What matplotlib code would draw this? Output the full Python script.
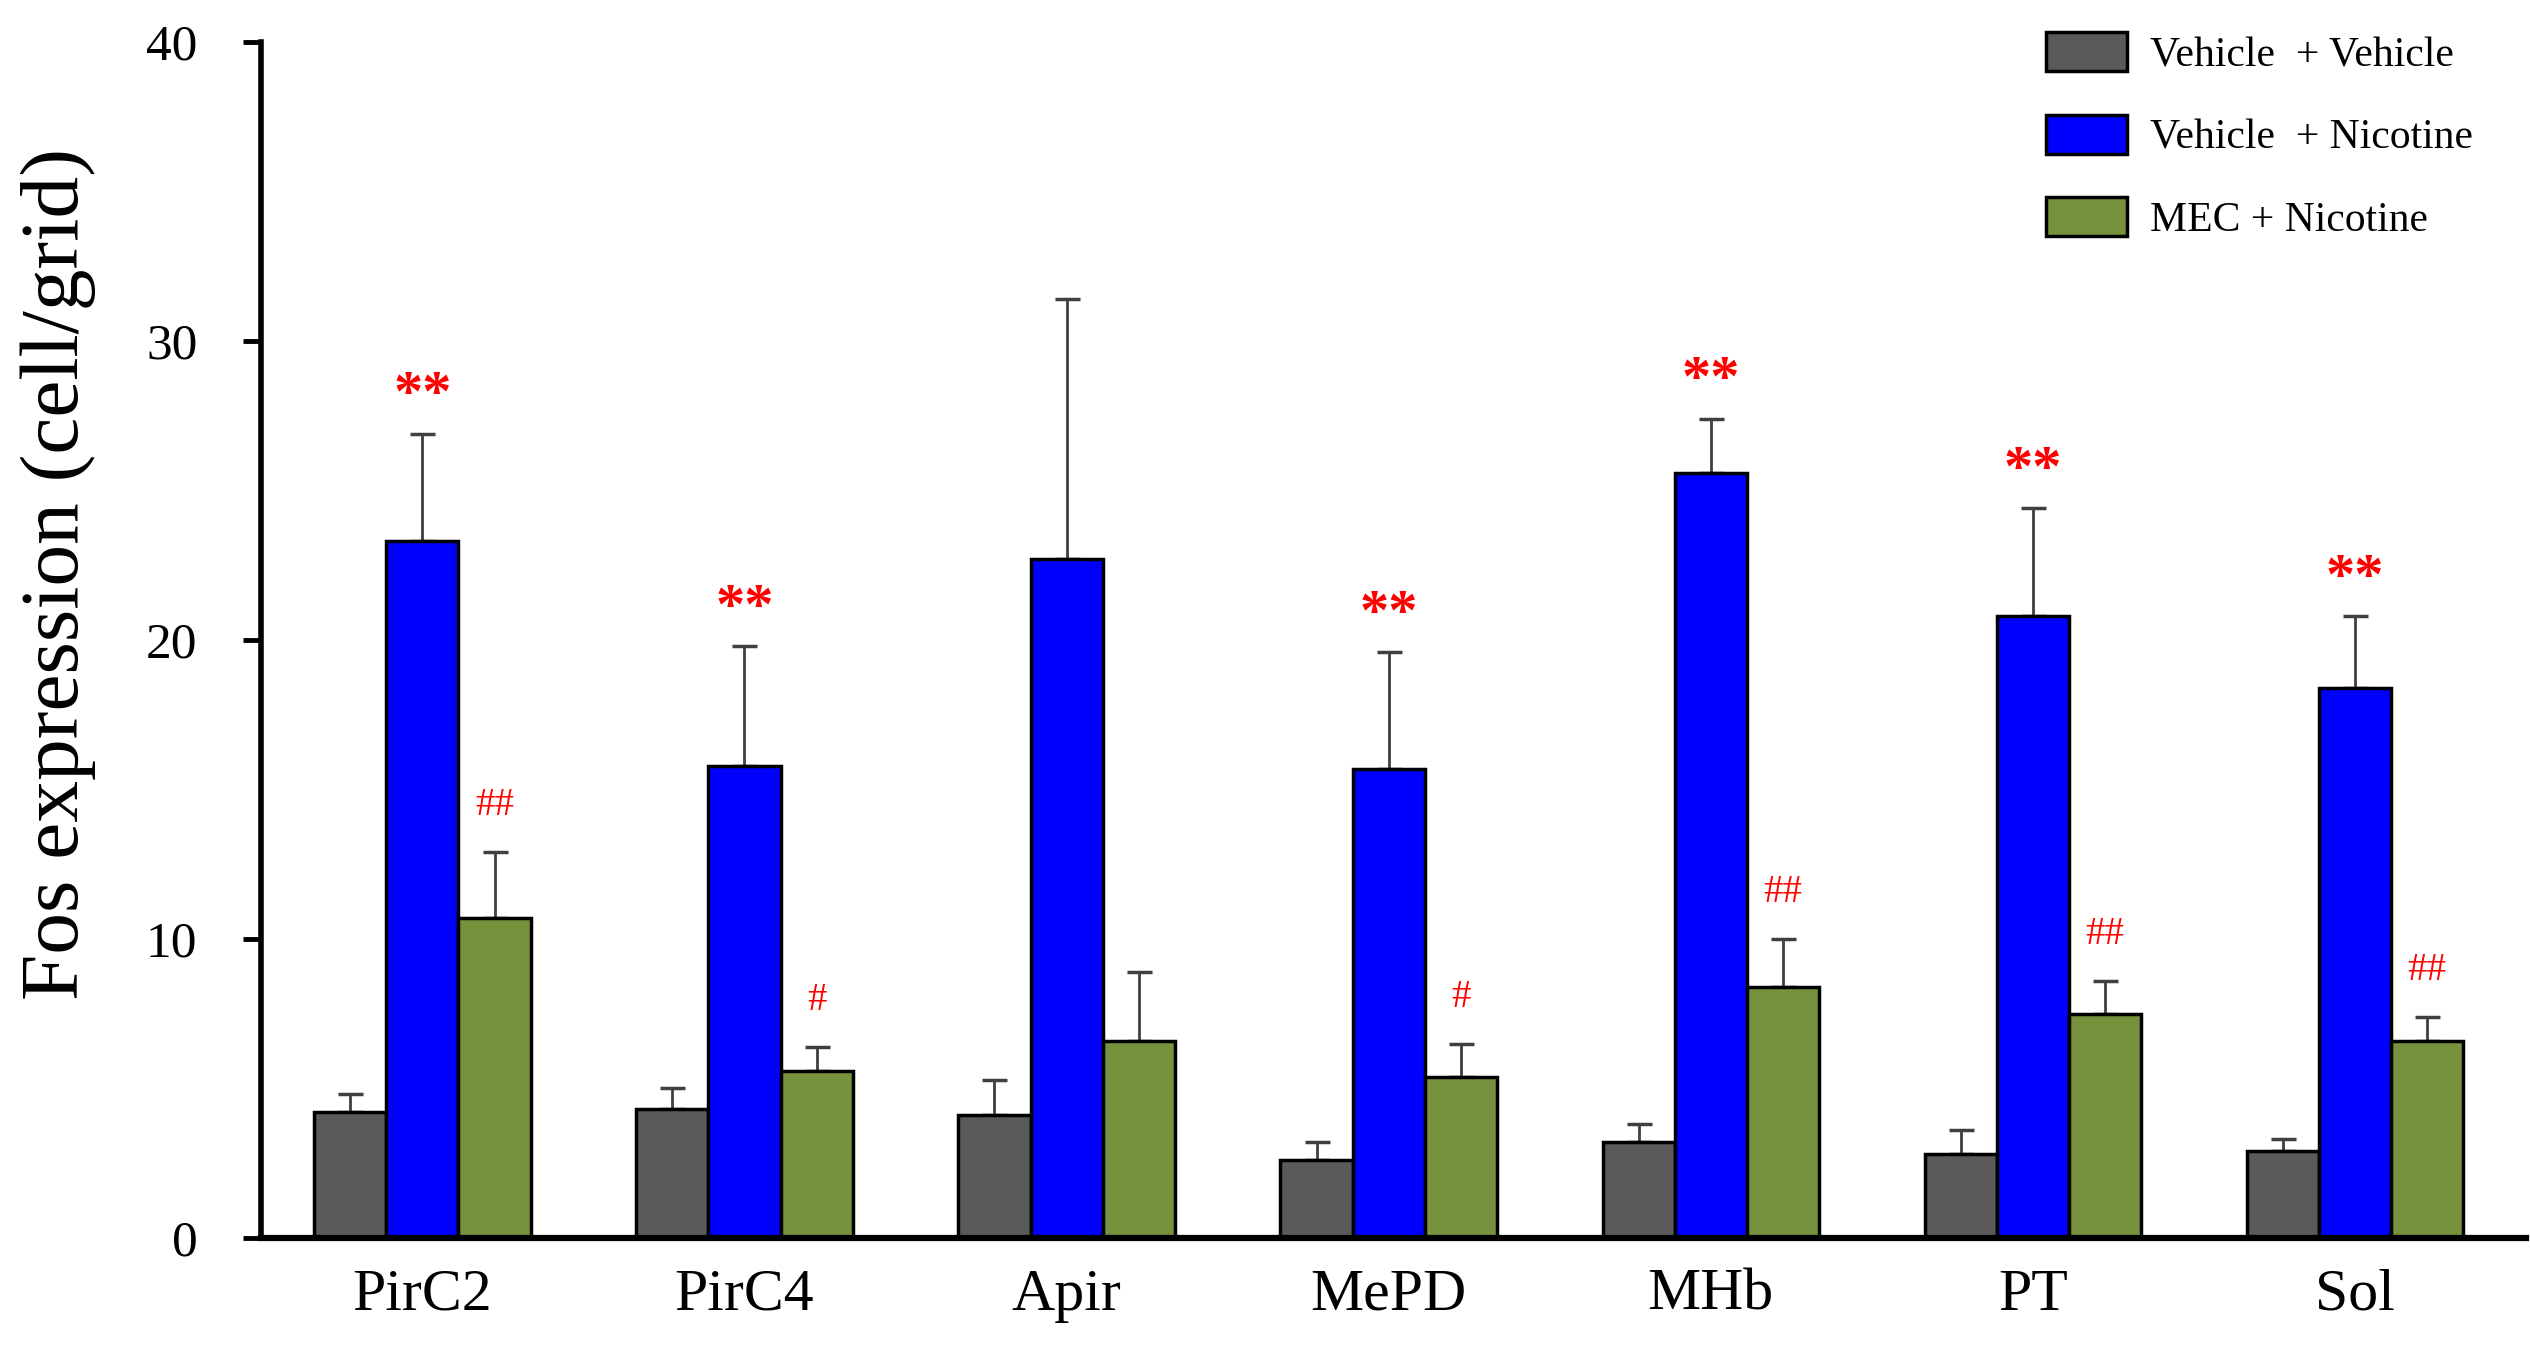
import matplotlib
matplotlib.use("Agg")
import matplotlib.pyplot as plt
import numpy as np

plt.rcParams['font.family'] = ['Liberation Serif', 'DejaVu Serif']

categories = ["PirC2", "PirC4", "Apir", "MePD", "MHb", "PT", "Sol"]
series_names = ["Vehicle  + Vehicle", "Vehicle  + Nicotine", "MEC + Nicotine"]
veh_veh = [4.2, 4.3, 4.1, 2.6, 3.2, 2.8, 2.9]
veh_veh_err = [0.6, 0.7, 1.2, 0.6, 0.6, 0.8, 0.4]
veh_nic = [23.3, 15.8, 22.7, 15.7, 25.6, 20.8, 18.4]
veh_nic_err = [3.6, 4.0, 8.7, 3.9, 1.8, 3.6, 2.4]
mec_nic = [10.7, 5.6, 6.6, 5.4, 8.4, 7.5, 6.6]
mec_nic_err = [2.2, 0.8, 2.3, 1.1, 1.6, 1.1, 0.8]
star_marks = ["**", "**", "", "**", "**", "**", "**"]
hash_marks = ["##", "#", "", "#", "##", "##", "##"]
yticks = [0, 10, 20, 30, 40]

colors = ["#5a5a5a", "#0000FF", "#76923C"]

fig = plt.figure(figsize=(25.3, 13.53), dpi=100)
ax = fig.add_axes([0.1033, 0.085, 0.895, 0.884])

x = np.arange(len(categories))
w = 0.224
vals = [veh_veh, veh_nic, mec_nic]
errs = [veh_veh_err, veh_nic_err, mec_nic_err]
for i in range(3):
    ax.bar(x + (i - 1) * w, vals[i], w, color=colors[i], edgecolor="black",
           linewidth=2.5, label=series_names[i], zorder=2)
    ax.errorbar(x + (i - 1) * w, vals[i], yerr=[np.zeros(len(x)), errs[i]],
                fmt="none", ecolor="#404040", elinewidth=2, capsize=9,
                capthick=2.5, zorder=1)

for j in range(len(categories)):
    if star_marks[j]:
        ax.text(x[j], veh_nic[j] + veh_nic_err[j] + 1.25, star_marks[j],
                ha="center", va="center", color="red", fontsize=42,
                fontweight="bold")
    if hash_marks[j]:
        ax.text(x[j] + w, mec_nic[j] + mec_nic_err[j] + 1.55, hash_marks[j],
                ha="center", va="center", color="red", fontsize=28)

ax.set_xlim(-0.5, 6.53)
ax.set_ylim(0, 40)
ax.set_yticks(yticks)
ax.set_xticks(x)
ax.set_xticklabels(categories, fontsize=43)
ax.tick_params(axis="x", length=0, pad=22)
ax.tick_params(axis="y", direction="out", length=13, width=3.5,
               labelsize=37, pad=33)
for s in ["top", "right"]:
    ax.spines[s].set_visible(False)
ax.spines["left"].set_linewidth(4)
ax.spines["bottom"].set_linewidth(4.5)

ax.set_ylabel("Fos expression (cell/grid)", fontsize=60)
ax.yaxis.set_label_coords(-0.073, 0.555)

leg = ax.legend(loc="upper left", bbox_to_anchor=(0.7806, 1.022),
                frameon=False, fontsize=30, handlelength=1.95,
                handleheight=1.07, labelspacing=0.95, handletextpad=0.55,
                borderaxespad=0)
for p in leg.get_patches():
    p.set_linewidth(2.5)

fig.savefig("out.png", dpi=100)
